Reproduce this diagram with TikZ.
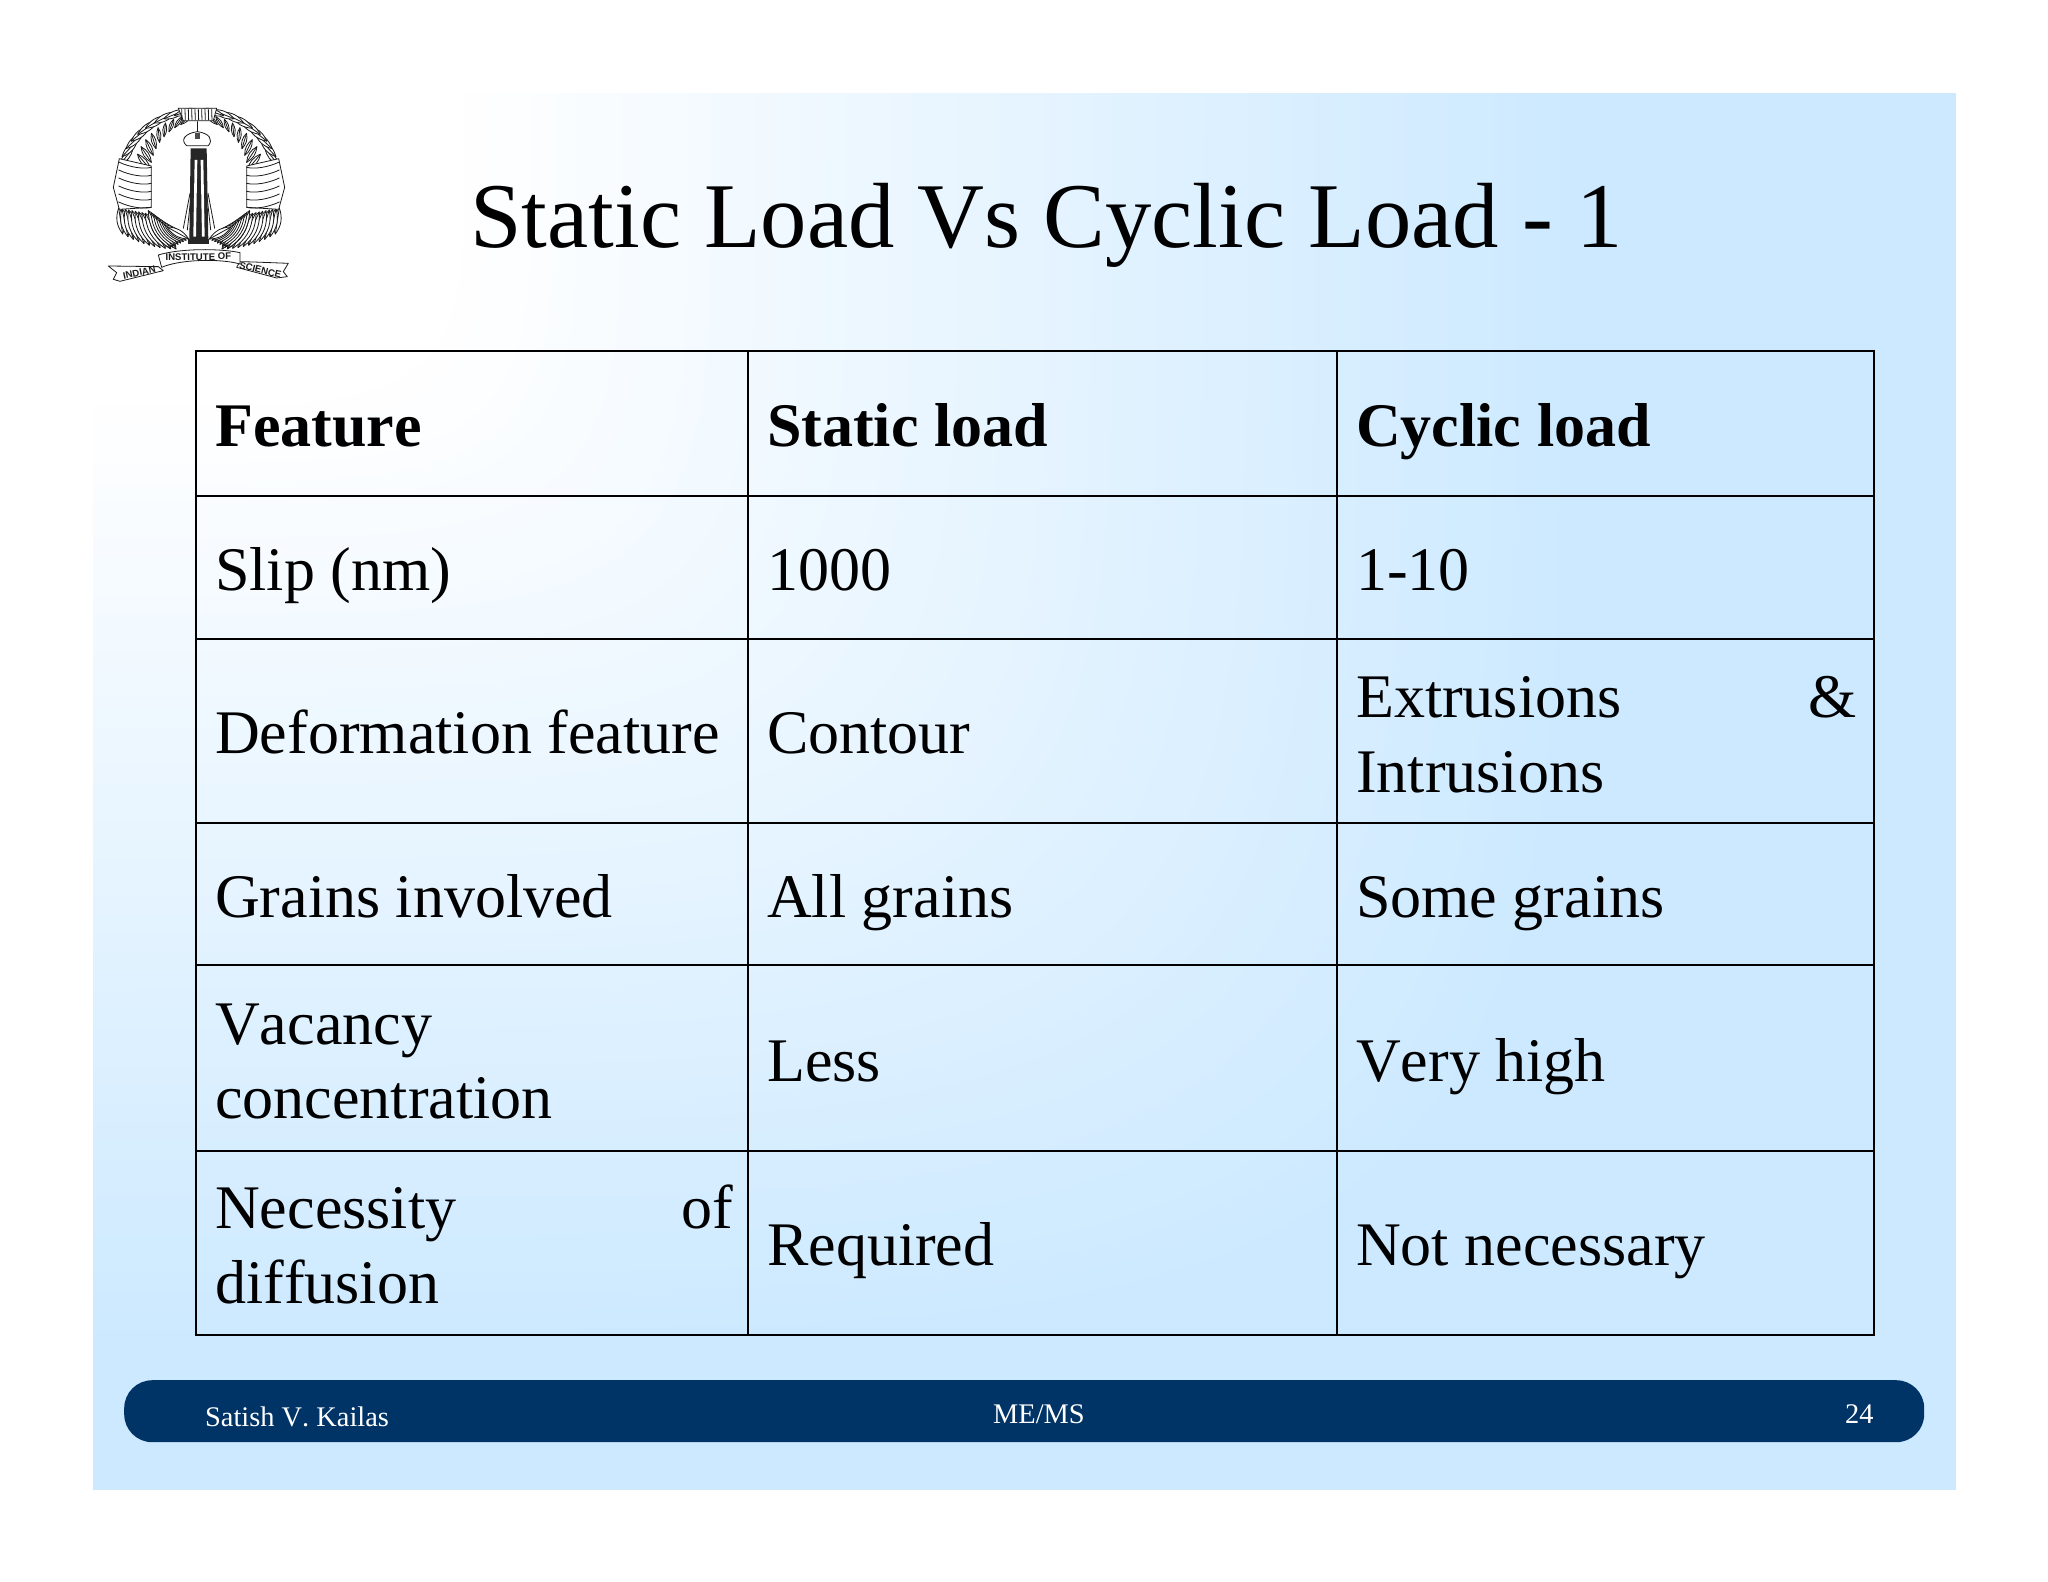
\documentclass[tikz,border=0pt]{standalone}
\usepackage{fontspec}
\setmainfont[Kerning=Off]{Liberation Serif}
\newfontfamily\logofont{Liberation Sans}
\definecolor{slideblue}{HTML}{CCE9FF}
\definecolor{bandblue}{HTML}{003366}
\tikzset{
  gridline/.style={line width=2.6pt,black},
  celltext/.style={anchor=base west,inner sep=0pt,font=\fontsize{62}{74.5}\selectfont,align=left},
  headtext/.style={celltext,font=\fontsize{62}{74.5}\selectfont\bfseries},
  foot/.style={anchor=base west,inner sep=0pt,text=white,font=\fontsize{28.4}{32}\selectfont},
  logoline/.style={line width=0.8pt,black!90,line cap=round,line join=round},
  logotext/.style={inner sep=0pt,font=\logofont\fontsize{9.6}{10}\selectfont\bfseries,text=black!90},
}
\newcommand{\logoleaf}[4]{%
  \draw[logoline,fill=white] (#1,#2) to[bend left=28] (#3,#4) to[bend left=28] (#1,#2);
  \draw[logoline] (#1,#2) -- (#3,#4);}
\newcommand{\logohalf}{%
  % upper laurel, outer then inner row
  \foreach \a in {166,158,...,96} {
    \logoleaf{{357+240*cos(\a+6)}}{{280-182*sin(\a+6)}}{{357+215*cos(\a-9)}}{{280-194*sin(\a-9)}}
  }
  \foreach \a in {170,162,...,100} {
    \logoleaf{{357+146*cos(\a+6)}}{{280-158*sin(\a+6)}}{{357+195*cos(\a-9)}}{{280-176*sin(\a-9)}}
  }
  % lower feathers
  \foreach \t in {0,1,...,10} {
    \logoleaf{{116+\t*10}}{{384+\t*2}}{{128+\t*16}}{{462+\t*9-\t*\t*0.45}}
  }
  \foreach \t in {0,1,...,7} {
    \logoleaf{{205+\t*8}}{{392+\t*7}}{{270+\t*8}}{{505-\t*4}}
  }
  % side band
  \draw[logoline,fill=white] (118,236) -- (214,258) -- (214,382) -- (118,388) -- (100,322) -- cycle;
  \foreach \yy in {0,24,...,120} {
    \draw[logoline] (116,{246+\yy}) .. controls (150,{262+\yy}) and (190,{268+\yy}) .. (214,{262+\yy});
  }
  % tower flare
  \draw[logoline] (330,340) -- (310,445);
  \draw[logoline] (334,340) -- (322,450);
}
\begin{document}
\begin{tikzpicture}[x=1pt,y=-1pt]
\useasboundingbox (0,0) rectangle (2048,1582);
\fill[white] (0,0) rectangle (2048,1582);
% slide gradient: white near the top-left corner, blue towards the right and bottom edges
\fill[white] (93,93) rectangle (1955,1489);
\foreach \s in {1,2,...,51} {
  \pgfmathsetmacro{\rr}{0.25+0.75*(\s-1)/50}
  \pgfmathsetmacro{\pp}{\s*100/51}
  \fill[slideblue!\pp!white] ({93+1490*\rr},93)
    -- plot[samples=16,domain=3:87,variable=\th] ({93+1490*\rr*pow(cos(\th),0.4)},{93+1256*\rr*pow(sin(\th),0.4)})
    -- (93,{93+1256*\rr}) -- (93,1489) -- (1955,1489) -- (1955,93) -- cycle;
}
% footer
\node[fill=bandblue,rounded corners=28pt,minimum width=1800pt,minimum height=62pt,inner sep=0pt,anchor=north west] (band) at (124,1380) {};
\node[foot] (author) at (205,1426) {Satish V. Kailas};
\node[foot] (course) at (993,1423) {ME/MS};
\node[foot] (page) at (1845,1423) {24};
% title
\node[anchor=base west,inner sep=0pt,font=\fontsize{92.6}{100}\selectfont] (title) at (470,247) {Static Load Vs Cyclic Load - 1};
% table grid
\draw[gridline] (196,351) rectangle (1874,1335);
\foreach \yy in {496,639,823,965,1151} \draw[gridline] (196,\yy) -- (1874,\yy);
\foreach \xx in {748,1337} \draw[gridline] (\xx,351) -- (\xx,1335);
% header
\node[headtext] (h1) at (215,446) {Feature};
\node[headtext] (h2) at (767,446) {Static load};
\node[headtext] (h3) at (1356,446) {Cyclic load};
% rows
\node[celltext] (a1) at (215,590.5) {Slip (nm)};
\node[celltext] (a2) at (767,590.5) {1000};
\node[celltext] (a3) at (1356,590.5) {1-10};
\node[celltext] (b1) at (215,753.5) {Deformation feature};
\node[celltext] (b2) at (767,753.5) {Contour};
\node[celltext,text width=500.5pt] (b3) at (1356,717.5) {Extrusions\hfill\&\\Intrusions};
\node[celltext] (c1) at (215,917) {Grains involved};
\node[celltext] (c2) at (767,917) {All grains};
\node[celltext] (c3) at (1356,917) {Some grains};
\node[celltext,text width=518pt] (d1) at (215,1044) {Vacancy\\concentration};
\node[celltext] (d2) at (767,1081) {Less};
\node[celltext] (d3) at (1356,1081) {Very high};
\node[celltext,text width=518pt] (e1) at (215,1228.5) {Necessity\hfill of\\diffusion};
\node[celltext] (e2) at (767,1265.5) {Required};
\node[celltext] (e3) at (1356,1265.5) {Not necessary};
% logo
\begin{scope}[shift={(80,80)},x=0.3333pt,y=-0.3333pt]
  \logohalf
\end{scope}
\begin{scope}[shift={(318,80)},x=-0.3333pt,y=-0.3333pt]
  \logohalf
\end{scope}
\begin{scope}[shift={(80,80)},x=0.3333pt,y=-0.3333pt]
  % top knot
  \draw[logoline,fill=white] (295,85) -- (410,85) -- (400,122) -- (310,122) -- cycle;
  \foreach \xx in {305,315,...,400} \draw[logoline] (\xx,88) -- (\xx+1,120);
  % tower
  \fill[black!85] (332,205) -- (380,205) -- (385,480) -- (328,480) -- cycle;
  \fill[white] (344,240) -- (352,240) -- (348,470) -- (340,470) -- cycle;
  \fill[white] (362,240) -- (370,240) -- (374,470) -- (366,470) -- cycle;
  \fill[black!85] (325,478) rectangle (388,492);
  % crown
  \draw[logoline,fill=white] (320,197) .. controls (300,180) and (315,160) .. (352,155) .. controls (390,160) and (400,180) .. (385,197) -- cycle;
  \draw[logoline] (352,125) -- (352,155);
  \fill[black!70] (345,160) rectangle (360,178);
  % ribbon
  \draw[logoline,fill=white] (85,558) -- (235,560) -- (250,572) -- (120,604) -- (100,598) -- (110,578) -- cycle;
  \draw[logoline,fill=white] (625,550) -- (610,575) -- (622,590) -- (590,594) -- (470,562) -- (480,545) -- (520,546) -- cycle;
  \draw[logoline,fill=white] (235,525) .. controls (300,505) and (420,505) .. (480,518) -- (480,552) .. controls (420,535) and (300,538) .. (245,562) -- cycle;
  \node[logotext,rotate=12] (logoa) at (178,578) {INDIAN};
  \node[logotext,rotate=1] (logob) at (355,531) {INSTITUTE OF};
  \node[logotext,rotate=-14] (logoc) at (541,570) {SCIENCE};
\end{scope}
\end{tikzpicture}
\end{document}
